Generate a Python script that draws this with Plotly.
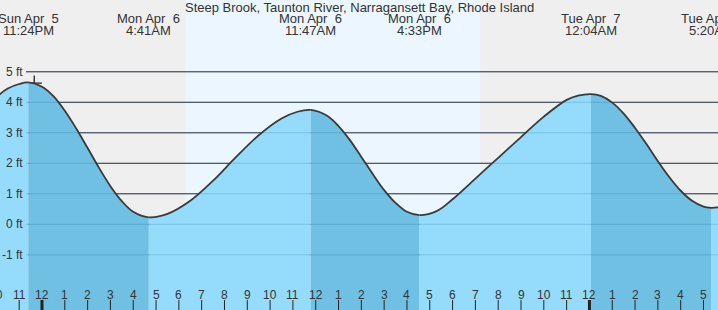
import plotly.graph_objects as go

# ---- data ----
title = "Steep Brook, Taunton River, Narragansett Bay, Rhode Island"

# curve samples: hours since midnight Mon Apr 6, height in ft
curve_hours = [-1.95, -1.5, -1.0, -0.6, 0.0, 0.5, 1.0, 1.5, 2.0, 2.5, 3.0, 3.5, 4.0, 4.683,
               5.5, 6.5, 7.5, 8.5, 9.5, 10.5, 11.2, 11.783,
               12.5, 13.0, 13.5, 14.0, 14.5, 15.0, 15.5, 16.0, 16.55,
               17.3, 18.0, 19.0, 20.0, 21.0, 22.0, 23.0, 23.5, 24.067,
               24.5, 25.0, 25.5, 26.0, 26.5, 27.0, 27.5, 28.0, 28.5, 29.0, 29.333, 29.8]
curve_ft = [4.2, 4.45, 4.6, 4.65, 4.51, 4.2, 3.72, 3.14, 2.5, 1.85, 1.25, 0.76, 0.41, 0.23,
            0.34, 0.77, 1.43, 2.2, 2.92, 3.47, 3.69, 3.75,
            3.56, 3.22, 2.76, 2.21, 1.65, 1.12, 0.7, 0.41, 0.30,
            0.43, 0.82, 1.5, 2.18, 2.86, 3.53, 4.08, 4.22, 4.27,
            4.21, 3.99, 3.63, 3.16, 2.63, 2.07, 1.55, 1.1, 0.77, 0.58, 0.54, 0.57]

# tide events (hours since midnight Mon Apr 6)
event_hours = [-0.6, 4.683, 11.783, 16.55, 24.067, 29.333]
event_day = ["Sun Apr\u00a0 5", "Mon Apr\u00a0 6", "Mon Apr\u00a0 6", "Mon Apr\u00a0 6", "Tue Apr\u00a0 7", "Tue Apr\u00a0 7"]
event_time = ["11:24PM", "4:41AM", "11:47AM", "4:33PM", "12:04AM", "5:20AM"]

sunrise, sunset = 6.29, 19.22
marker_hour, marker_ft = [-0.34], [4.63]

y_ticks = [5, 4, 3, 2, 1, 0, -1]
hour_ticks = list(range(-2, 30))

# ---- view ----
W, H = 718, 310
x0, x1 = -1.841, 29.636
y0, y1 = -2.81, 7.354
TXT = "#333333"
FONT = "Liberation Sans, Arial, sans-serif"
LIGHT = "#95dcfc"
DARK = "#70c0e4"
CURVE = "#3a3a3a"

def xfrac(h):
    return (h - x0) / (x1 - x0)

fig = go.Figure()
layout = dict(
    width=W, height=H, margin=dict(l=0, r=0, t=0, b=0),
    paper_bgcolor="#efefef", plot_bgcolor="rgba(0,0,0,0)", showlegend=False,
    xaxis=dict(range=[x0, x1], domain=[0, 1], visible=False, fixedrange=True),
    yaxis=dict(range=[y0, y1], domain=[0, 1], visible=False, fixedrange=True),
)

# crosshair marker on the base subplot
fig.add_trace(go.Scatter(x=marker_hour, y=marker_ft, mode="markers", xaxis="x", yaxis="y",
                         marker=dict(symbol="cross-thin", size=11, line=dict(color="#222", width=1.3)),
                         hoverinfo="skip"))

bounds = [x0] + event_hours + [x1]
for i in range(len(bounds) - 1):
    a, b = bounds[i], bounds[i + 1]
    a = max(a, x0); b = min(b, x1)
    if b <= a:
        continue
    n = i + 2
    layout[f"xaxis{n}"] = dict(range=[a, b], domain=[xfrac(a), xfrac(b)], visible=False,
                               anchor="y", fixedrange=True)
    color = DARK if i % 2 == 1 else LIGHT
    fig.add_trace(go.Scatter(x=[x0 - 1, x1 + 1], y=[y0 - 2, y0 - 2], mode="lines",
                             line=dict(width=0), xaxis=f"x{n}", yaxis="y", hoverinfo="skip"))
    fig.add_trace(go.Scatter(x=curve_hours, y=curve_ft, mode="lines", fill="tonexty",
                             fillcolor=color, line=dict(color=CURVE, width=1.8, shape="spline", smoothing=1.0),
                             xaxis=f"x{n}", yaxis="y", hoverinfo="skip"))

shapes = []
# daylight band
shapes.append(dict(type="rect", xref="paper", yref="paper", x0=xfrac(sunrise), x1=xfrac(sunset),
                   y0=0, y1=1, fillcolor="#ebf6fe", line=dict(width=0), layer="below"))
# gridlines
for v in y_ticks:
    yf = (v - y0) / (y1 - y0)
    shapes.append(dict(type="line", xref="paper", yref="paper", x0=26 / W, x1=1, y0=yf, y1=yf,
                       line=dict(color="#333333", width=1), layer="below"))
    shapes.append(dict(type="line", xref="paper", yref="paper", x0=26 / W, x1=1, y0=yf, y1=yf,
                       line=dict(color="rgba(20,90,150,0.22)", width=1), layer="above"))
# hour ticks
for h in hour_ticks:
    shapes.append(dict(type="line", xref="x", yref="paper", x0=h, x1=h, y0=0, y1=10 / H,
                       line=dict(color="#222222", width=3 if h % 24 == 0 else 1), layer="above"))

ann = []
ann.append(dict(text=title, xref="paper", yref="paper", x=359 / W, y=1 - 7 / H, showarrow=False,
                xanchor="center", yanchor="middle", font=dict(family=FONT, size=13, color=TXT)))
for h, d, t in zip(event_hours, event_day, event_time):
    ann.append(dict(text=d, xref="paper", yref="paper", x=xfrac(h), y=1 - 18.5 / H, showarrow=False,
                    xanchor="center", yanchor="middle", font=dict(family=FONT, size=13, color=TXT)))
    ann.append(dict(text=t, xref="paper", yref="paper", x=xfrac(h), y=1 - 31 / H, showarrow=False,
                    xanchor="center", yanchor="middle", font=dict(family=FONT, size=13, color=TXT)))
for v in y_ticks:
    ann.append(dict(text=f"{v} ft", xref="paper", yref="y", x=24.5 / W, y=v, showarrow=False,
                    xanchor="right", yanchor="middle", font=dict(family=FONT, size=12, color=TXT)))
for h in hour_ticks:
    lab = (h % 12) or 12
    ann.append(dict(text=str(lab), xref="paper", yref="paper", x=xfrac(h), y=15 / H, showarrow=False,
                    xanchor="center", yanchor="middle", font=dict(family=FONT, size=12, color=TXT)))

layout["shapes"] = shapes
layout["annotations"] = ann
fig.update_layout(**layout)
fig.write_html("out.html")
